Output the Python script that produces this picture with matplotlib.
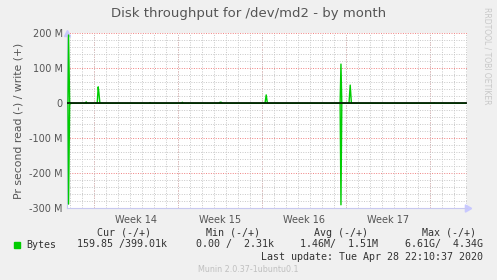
import matplotlib
matplotlib.use("Agg")
import matplotlib.pyplot as plt

W, H = 497, 280
DPI = 100

# time in days from the left edge of the graph, values in M (bytes/s)
times = [0.08, 0.13, 0.22, 0.35, 1.5, 1.6, 1.7, 2.52, 2.6, 2.66, 2.74,
         6.85, 6.92, 7.0, 9.55, 9.61, 9.68, 12.65, 12.75, 12.85, 12.95,
         16.5, 16.6, 16.7, 22.76, 22.83, 22.9, 23.5, 23.6, 23.7,
         30.55, 30.61, 30.68, 33.22]
writes = [0, 195, 2, 0, 0, 4, 0, 0, 47, 30, 0,
          0, 2, 0, 0, 3, 0, 0, 3, 3, 0,
          0, 24, 0, 0, 112, 0, 0, 52, 0,
          0, 1, 0, 0]
reads = [0, -288, -3, 0, 0, 0, 0, 0, 0, 0, 0,
         0, 0, 0, 0, 0, 0, 0, 0, 0, 0,
         0, 0, 0, 0, -290, 0, 0, 0, 0,
         0, 0, 0, 0]

week_lines = [2.27, 9.27, 16.27, 23.27, 30.27]
week_labels = ['Week 14', 'Week 15', 'Week 16', 'Week 17']
y_ticks = [-300, -200, -100, 0, 100, 200]
y_labels = ['-300 M', '-200 M', '-100 M', '0', '100 M', '200 M']

fig = plt.figure(figsize=(W / DPI, H / DPI), dpi=DPI, facecolor='#F0F0F0')
ax = fig.add_axes([67 / W, (H - 208.3) / H, 400 / W, 175 / H])
ax.set_facecolor('white')
ax.set_xlim(0, 400 / 12)
ax.set_ylim(-300, 200)

# grid
ax.set_xticks([0.27 + k for k in range(34)], minor=True)
ax.set_yticks(range(-300, 201, 20), minor=True)
ax.grid(which='minor', color='#C8C8C8', linestyle=(0, (1, 1.5)), linewidth=0.7)
for x in week_lines:
    ax.axvline(x, color='#F08080', linestyle=(0, (1, 1.5)), linewidth=0.7, zorder=1)
for y in y_ticks:
    ax.axhline(y, color='#F08080', linestyle=(0, (1, 1.5)), linewidth=0.7, zorder=1)

ax.set_yticks(y_ticks)
ax.set_yticklabels(y_labels)
ax.set_xticks([(week_lines[i] + week_lines[i + 1]) / 2 for i in range(4)])
ax.set_xticklabels(week_labels)
ax.tick_params(which='both', length=0, labelsize=7, colors='#555555', pad=3)
ax.tick_params(axis='x', pad=4.5)

for s in ['top', 'right']:
    ax.spines[s].set_visible(False)
for s in ['left', 'bottom']:
    ax.spines[s].set_color('#C8C8F0')
    ax.spines[s].set_linewidth(0.8)
ax.plot([1.0], [0], marker=(3, 0, -90), color='#C8C8FF', markersize=6,
        transform=ax.transAxes, clip_on=False, linestyle='none')
ax.plot([0], [1.0], marker='^', color='#C8C8FF', markersize=5,
        transform=ax.transAxes, clip_on=False, linestyle='none')

ax.plot(times, writes, color='#00CC00', linewidth=1.0, zorder=4)
ax.plot(times, reads, color='#00CC00', linewidth=1.0, zorder=4)
ax.axhline(0, color='black', linewidth=1.1, zorder=5)

ax.set_ylabel('Pr second read (-) / write (+)', fontsize=7.8, color='#555555', labelpad=4)
fig.text(0.5, 1 - 13 / H, 'Disk throughput for /dev/md2 - by month',
         ha='center', va='center', fontsize=9.5, color='#555555')
fig.text(487 / W, 1 - 56 / H, 'RRDTOOL / TOBI OETIKER', rotation=270,
         ha='center', va='center', fontsize=5.5, color='#C8C8C8')

mono = dict(family='DejaVu Sans Mono', fontsize=7.2, color='#333333', va='center')
def t(xr, y, s):
    fig.text(xr / W, 1 - y / H, s, ha='right', **mono)

t(151, 232.5, 'Cur (-/+)')
t(260, 232.5, 'Min (-/+)')
t(368, 232.5, 'Avg (-/+)')
t(476, 232.5, 'Max (-/+)')
fig.text(26 / W, 1 - 244.5 / H, 'Bytes', ha='left', **mono)
t(167, 244.5, '159.85 /399.01k')
t(274, 244.5, '0.00 /  2.31k')
t(378, 244.5, '1.46M/  1.51M')
t(483, 244.5, '6.61G/  4.34G')
t(483, 256.5, 'Last update: Tue Apr 28 22:10:37 2020')
fig.patches.append(plt.Rectangle((14 / W, 1 - 248 / H), 6 / W, 6 / H,
                                 transform=fig.transFigure, color='#00CC00'))
fig.text(0.5, 1 - 269 / H, 'Munin 2.0.37-1ubuntu0.1', ha='center', va='center',
         fontsize=5.8, color='#C0C0C0')

fig.savefig('out.png', dpi=DPI, facecolor=fig.get_facecolor())
